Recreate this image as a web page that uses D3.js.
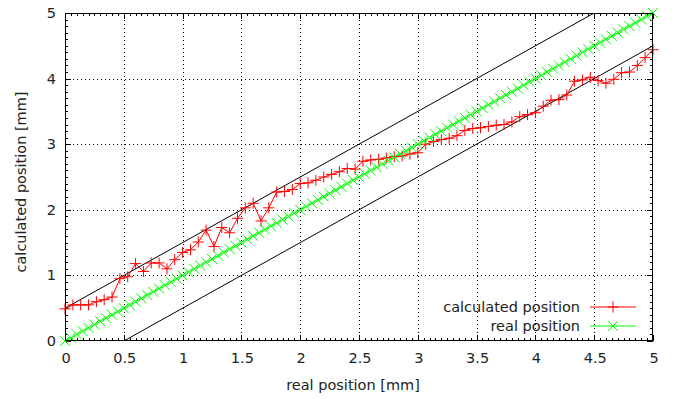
<!DOCTYPE html>
<html><head><meta charset="utf-8">
<script src="https://cdn.jsdelivr.net/npm/d3@7"></script>
<style>body{margin:0;background:#fff}svg{display:block}</style>
</head><body>
<svg id="c" width="678" height="399"></svg>
<script>
// ---- data ----
const calcX = [0,0.067,0.133,0.2,0.267,0.333,0.4,0.467,0.533,0.6,0.667,0.733,0.8,0.867,0.933,1.0,1.067,1.133,1.2,1.267,1.333,1.4,1.467,1.533,1.6,1.667,1.733,1.8,1.867,1.933,2.0,2.067,2.133,2.2,2.267,2.333,2.4,2.467,2.533,2.6,2.667,2.733,2.8,2.867,2.933,3.0,3.067,3.133,3.2,3.267,3.333,3.4,3.467,3.533,3.6,3.667,3.733,3.8,3.867,3.933,4.0,4.067,4.133,4.2,4.267,4.333,4.4,4.467,4.533,4.6,4.667,4.733,4.8,4.867,4.933,5.0];
const calcY = [0.49,0.55,0.55,0.55,0.60,0.63,0.67,0.95,0.98,1.18,1.06,1.19,1.19,1.10,1.24,1.35,1.39,1.51,1.69,1.44,1.73,1.65,1.87,2.03,2.10,1.83,2.03,2.27,2.28,2.31,2.40,2.41,2.45,2.50,2.54,2.58,2.63,2.62,2.74,2.76,2.77,2.79,2.81,2.82,2.85,2.87,3.00,3.04,3.07,3.09,3.13,3.21,3.24,3.25,3.27,3.29,3.30,3.34,3.42,3.45,3.48,3.58,3.67,3.68,3.75,3.96,3.98,4.02,3.97,3.93,3.99,4.09,4.10,4.20,4.32,4.44];
const realX = [0,0.05,0.1,0.15,0.2,0.25,0.3,0.35,0.4,0.45,0.5,0.55,0.6,0.65,0.7,0.75,0.8,0.85,0.9,0.95,1,1.05,1.1,1.15,1.2,1.25,1.3,1.35,1.4,1.45,1.5,1.55,1.6,1.65,1.7,1.75,1.8,1.85,1.9,1.95,2,2.05,2.1,2.15,2.2,2.25,2.3,2.35,2.4,2.45,2.5,2.55,2.6,2.65,2.7,2.75,2.8,2.85,2.9,2.95,3,3.05,3.1,3.15,3.2,3.25,3.3,3.35,3.4,3.45,3.5,3.55,3.6,3.65,3.7,3.75,3.8,3.85,3.9,3.95,4,4.05,4.1,4.15,4.2,4.25,4.3,4.35,4.4,4.45,4.5,4.55,4.6,4.65,4.7,4.75,4.8,4.85,4.9,4.95,5];
const realY = [0,0.05,0.1,0.15,0.2,0.25,0.3,0.35,0.4,0.45,0.5,0.55,0.6,0.65,0.7,0.75,0.8,0.85,0.9,0.95,1,1.05,1.1,1.15,1.2,1.25,1.3,1.35,1.4,1.45,1.5,1.55,1.6,1.65,1.7,1.75,1.8,1.85,1.9,1.95,2,2.05,2.1,2.15,2.2,2.25,2.3,2.35,2.4,2.45,2.5,2.55,2.6,2.65,2.7,2.75,2.8,2.85,2.9,2.95,3,3.05,3.1,3.15,3.2,3.25,3.3,3.35,3.4,3.45,3.5,3.55,3.6,3.65,3.7,3.75,3.8,3.85,3.9,3.95,4,4.05,4.1,4.15,4.2,4.25,4.3,4.35,4.4,4.45,4.5,4.55,4.6,4.65,4.7,4.75,4.8,4.85,4.9,4.95,5];
const upperBandX = [0,4.5], upperBandY = [0.5,5];
const lowerBandX = [0.5,5], lowerBandY = [0,4.5];
const xTicks = [0,0.5,1,1.5,2,2.5,3,3.5,4,4.5,5];
const xTickLabels = ["0","0.5","1","1.5","2","2.5","3","3.5","4","4.5","5"];
const yTicks = [0,1,2,3,4,5];
const yTickLabels = ["0","1","2","3","4","5"];
const seriesNames = ["calculated position","real position"];
const xTitle = "real position [mm]", yTitle = "calculated position [mm]";

// ---- layout ----
const W = 678, H = 399;
const m = {l:65, r:25, t:13, b:58};
const FONT = "'DejaVu Sans', Verdana, sans-serif";
const FS = 14.5;
const svg = d3.select("#c");
const x = d3.scaleLinear().domain([0,5]).range([m.l, W-m.r]);
const y = d3.scaleLinear().domain([0,5]).range([H-m.b, m.t]);
const x0=m.l, x1=W-m.r, y0=H-m.b, y1=m.t;

svg.append("defs").append("clipPath").attr("id","clip")
  .append("rect").attr("x",x0).attr("y",y1).attr("width",x1-x0).attr("height",y0-y1);

// grid
const g = svg.append("g");
g.selectAll(".gx").data(xTicks.slice(1,-1)).join("line")
  .attr("x1",d=>Math.round(x(d))+0.5).attr("x2",d=>Math.round(x(d))+0.5)
  .attr("y1",y0).attr("y2",y1).attr("stroke","#000").attr("stroke-width",1).attr("stroke-dasharray","1,3");
g.selectAll(".gy").data(yTicks.slice(1,-1)).join("line")
  .attr("y1",d=>Math.round(y(d))+0.5).attr("y2",d=>Math.round(y(d))+0.5)
  .attr("x1",x0).attr("x2",x1).attr("stroke","#000").attr("stroke-width",1).attr("stroke-dasharray","1,3");

// ticks (mirrored, inward)
const minorX = x.ticks(100), minorY = y.ticks(50);
const tk = svg.append("g").attr("stroke","#000").attr("stroke-width",1);
minorX.forEach(v=>{
  const px = Math.round(x(v))+0.5, major = xTicks.some(t=>Math.abs(t-v)<1e-9), L = major?6:3;
  tk.append("line").attr("x1",px).attr("x2",px).attr("y1",y0).attr("y2",y0-L);
  tk.append("line").attr("x1",px).attr("x2",px).attr("y1",y1).attr("y2",y1+L);
});
minorY.forEach(v=>{
  const py = Math.round(y(v))+0.5, major = yTicks.some(t=>Math.abs(t-v)<1e-9), L = major?6:3;
  tk.append("line").attr("y1",py).attr("y2",py).attr("x1",x0).attr("x2",x0+L);
  tk.append("line").attr("y1",py).attr("y2",py).attr("x1",x1).attr("x2",x1-L);
});

// tick labels
svg.append("g").selectAll("text").data(xTicks).join("text")
  .attr("x",d=>x(d)+1).attr("y",y0+22).attr("text-anchor","middle")
  .attr("font-family",FONT).attr("font-size",FS).attr("fill","#222")
  .text((d,i)=>xTickLabels[i]);
svg.append("g").selectAll("text").data(yTicks).join("text")
  .attr("x",x0-9).attr("y",d=>y(d)+5).attr("text-anchor","end")
  .attr("font-family",FONT).attr("font-size",FS).attr("fill","#222")
  .text((d,i)=>yTickLabels[i]);

// titles
svg.append("text").attr("x",(x0+x1)/2-6).attr("y",390).attr("text-anchor","middle")
  .attr("font-family",FONT).attr("font-size",FS).attr("fill","#222").text(xTitle);
svg.append("text").attr("transform",`translate(26,${(y0+y1)/2+5}) rotate(-90)`).attr("text-anchor","middle")
  .attr("font-family",FONT).attr("font-size",FS).attr("fill","#222").text(yTitle);

// plot content
const plot = svg.append("g").attr("clip-path","url(#clip)");
const line = d3.line().x(d=>x(d[0])).y(d=>y(d[1]));
plot.append("path").datum(upperBandX.map((v,i)=>[v,upperBandY[i]])).attr("d",line)
  .attr("fill","none").attr("stroke","#000").attr("stroke-width",1);
plot.append("path").datum(lowerBandX.map((v,i)=>[v,lowerBandY[i]])).attr("d",line)
  .attr("fill","none").attr("stroke","#000").attr("stroke-width",1);

const RED = "#ff0000", GREEN = "#00ff00";
const calc = calcX.map((v,i)=>[v,calcY[i]]);
const real = realX.map((v,i)=>[v,realY[i]]);
function plus(sel, cx, cy, r, col){
  sel.append("path").attr("d",`M${cx-r},${cy}H${cx+r}M${cx},${cy-r}V${cy+r}`).attr("stroke",col).attr("stroke-width",1).attr("fill","none");
}
function cross(sel, cx, cy, r, col){
  sel.append("path").attr("d",`M${cx-r},${cy-r}L${cx+r},${cy+r}M${cx-r},${cy+r}L${cx+r},${cy-r}`).attr("stroke",col).attr("stroke-width",1).attr("fill","none");
}
plot.append("path").datum(calc).attr("d",line).attr("fill","none").attr("stroke",RED).attr("stroke-width",1);
const pm = svg.append("g");
calc.forEach(d=>plus(pm, x(d[0]), y(d[1]), 5.5, RED));
plot.append("path").datum(real).attr("d",line).attr("fill","none").attr("stroke",GREEN).attr("stroke-width",1);
const gm = svg.append("g");
real.forEach(d=>cross(gm, x(d[0]), y(d[1]), 5, GREEN));

// border
svg.append("rect").attr("x",x0+0.5).attr("y",y1+0.5).attr("width",x1-x0-1).attr("height",y0-y1-1)
  .attr("fill","none").attr("stroke","#000").attr("stroke-width",1);

// legend
const leg = svg.append("g");
[RED, GREEN].forEach((col,i)=>{
  const ly = 307 + i*19;
  leg.append("text").attr("x",580).attr("y",ly+5).attr("text-anchor","end")
    .attr("font-family",FONT).attr("font-size",FS).attr("fill","#222").text(seriesNames[i]);
  leg.append("line").attr("x1",590).attr("x2",636).attr("y1",ly).attr("y2",ly).attr("stroke",col).attr("stroke-width",1);
  if(i===0) plus(leg, 613, ly, 5.5, col); else cross(leg, 613, ly, 5, col);
});
</script>
</body></html>
